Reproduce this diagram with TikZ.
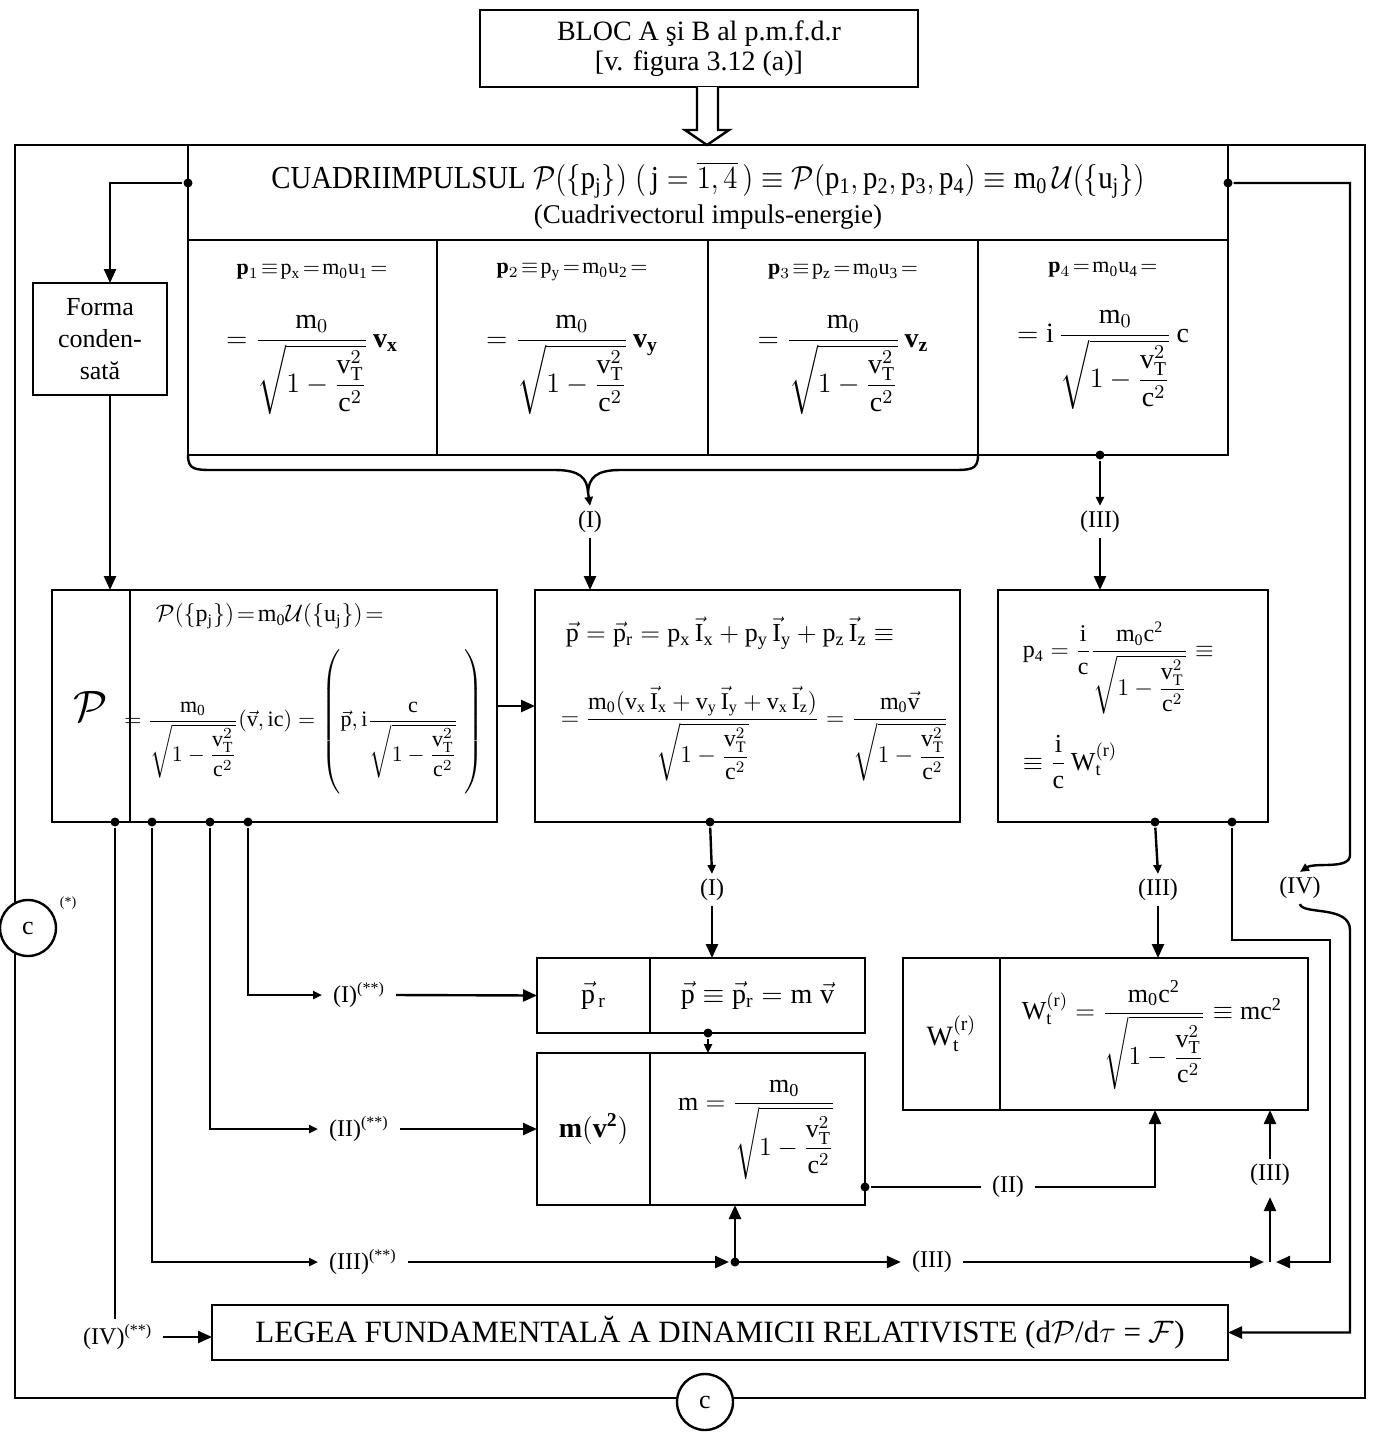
\RequirePackage{fix-cm}
\documentclass[tikz,border=0pt]{standalone}
\usepackage{amsmath}
\usepackage{fontspec}
\setmainfont{Liberation Serif}
\usetikzlibrary{arrows.meta,calc}
\newcommand\rr[1]{\mathrm{#1}}
\newcommand\rtq{\sqrt{1-\dfrac{\rr{v}_{\rr{T}}^{2}}{\rr{c}^{2}}}}
\newcommand\vv[1]{\vec{\rr{#1}}}
\newcommand\fs[1]{\fontsize{#1}{#1}\selectfont}
\newcommand\mkbox[6][]{\node[box,#1,minimum width={(#5-#3)*0.5pt},minimum height={(#6-#4)*0.5pt}] (#2) at ({(#3+#5)/2},{(#4+#6)/2}) {};}
\begin{document}
\begin{tikzpicture}[x=0.5pt,y=-0.5pt,line width=1.2pt,
  box/.style={draw,inner sep=0pt,outer sep=0pt},
  arr/.style={-{Triangle[length=7pt,width=6pt]}},
  sarr/.style={-{Triangle[length=4.5pt,width=4pt]}},
  dot/.style={circle,fill,inner sep=0pt,minimum size=4.5pt},
  lab/.style={font=\fs{12},inner xsep=5pt,inner ysep=2pt},
  cc/.style={circle,draw,fill=white,minimum size=28pt,inner sep=0pt,font=\fs{13}}]
\useasboundingbox (0,0) rectangle (1376,1432);
% outer loop
\draw (15,145) rectangle (1365,1398);
% boxes
\mkbox{top}{480}{10}{918}{87}
\mkbox{hdr}{188}{145}{1228}{240}
\mkbox{c1}{188}{240}{437}{455}
\mkbox{c2}{437}{240}{708}{455}
\mkbox{c3}{708}{240}{978}{455}
\mkbox{c4}{978}{240}{1228}{455}
\mkbox{forma}{33}{283}{167}{395}
\mkbox{Pl}{52}{590}{130}{822}
\mkbox{Pr}{130}{590}{497}{822}
\mkbox{pv}{535}{590}{960}{822}
\mkbox{pf}{998}{590}{1268}{822}
\mkbox{prl}{537}{958}{650}{1033}
\mkbox{prr}{650}{958}{865}{1033}
\mkbox{ml}{537}{1053}{650}{1205}
\mkbox{mr}{650}{1053}{865}{1205}
\mkbox{wl}{903}{958}{1000}{1110}
\mkbox{wr}{1000}{958}{1308}{1110}
\mkbox{legea}{212}{1305}{1228}{1360}
% circles
\node[cc] (cl) at (28,928) {c};
\node[font=\fs{7}] (st) at (68,903) {(*)};
\node[cc] (cb) at (705,1402) {c};
% texts
\node[align=center,font=\fontsize{14}{15}\selectfont] (toptxt) at (top) {BLOC A şi B al p.m.f.d.r\\{[v. figura 3.12 (a)]}};
\node[font=\fontsize{16}{18}\selectfont] (h1) at (708,180) {\scalebox{0.9}[1]{CUADRIIMPULSUL $\mathcal{P}(\{\rr{p_j}\})\;(\,\rr{j}=\overline{1,4}\,)\equiv\mathcal{P}(\rr{p_1,p_2,p_3,p_4})\equiv\rr{m_0}\,\mathcal{U}(\{\rr{u_j}\})$}};
\node[font=\fontsize{13.5}{15}\selectfont] (h2) at (708,217) {(Cuadrivectorul impuls-energie)};
\node[font=\fs{11}] (c1a) at (312,272) {$\mathbf{p}_{1}\!\equiv\!\rr{p_x}\!=\!\rr{m_0u_1}\!=$};
\node[font=\fs{14}] (c1b) at (312,365) {$=\dfrac{\rr{m}_0}{\rtq}\,\mathbf{v_x}$};
\node[font=\fs{11}] (c2a) at (572,272) {$\mathbf{p}_{2}\!\equiv\!\rr{p_y}\!=\!\rr{m_0u_2}\!=$};
\node[font=\fs{14}] (c2b) at (572,365) {$=\dfrac{\rr{m}_0}{\rtq}\,\mathbf{v_y}$};
\node[font=\fs{11}] (c3a) at (843,272) {$\mathbf{p}_{3}\!\equiv\!\rr{p_z}\!=\!\rr{m_0u_3}\!=$};
\node[font=\fs{14}] (c3b) at (843,365) {$=\dfrac{\rr{m}_0}{\rtq}\,\mathbf{v_z}$};
\node[font=\fs{11}] (c4a) at (1103,270) {$\mathbf{p}_{4}\!=\!\rr{m_0u_4}\!=$};
\node[font=\fs{14}] (c4b) at (1103,360) {$=\rr{i}\,\dfrac{\rr{m}_0}{\rtq}\,\rr{c}$};
\node[font=\fontsize{13}{16}\selectfont,align=center] (ft) at (forma) {Forma\\conden-\\sată};
\node[font=\fs{22}] (Psym) at (Pl) {$\mathcal{P}$};
\node[font=\fs{12},anchor=west] (Pa) at (148,616) {$\mathcal{P}(\{\rr{p_j}\})\!=\!\rr{m_0}\mathcal{U}(\{\rr{u_j}\})\!=$};
\node[font=\fs{11}] (Pb) at (304,722) {$=\dfrac{\rr{m_0}}{\rtq}(\vv{v},\rr{ic})=\left(\rule[-34pt]{0pt}{68pt}\vv{p},\rr{i}\dfrac{\rr{c}}{\rtq}\;\right)$};
\node[font=\fs{13},anchor=west] (pva) at (558,633) {$\vv{p}=\vv{p}_{\rr{r}}=\rr{p_x}\,\vec{\rr{I}}_{\rr{x}}+\rr{p_y}\,\vec{\rr{I}}_{\rr{y}}+\rr{p_z}\,\vec{\rr{I}}_{\rr{z}}\equiv$};
\node[font=\fs{12},anchor=west] (pvb) at (553,734) {$=\dfrac{\rr{m_0}(\rr{v_x}\,\vec{\rr{I}}_{\rr{x}}+\rr{v_y}\,\vec{\rr{I}}_{\rr{y}}+\rr{v_x}\,\vec{\rr{I}}_{\rr{z}})}{\rtq}=\dfrac{\rr{m_0}\vv{v}}{\rtq}$};
\node[font=\fs{12},anchor=west] (pfa) at (1015,668) {$\rr{p_4}=\dfrac{\rr{i}}{\rr{c}}\dfrac{\rr{m_0c^2}}{\rtq}\equiv$};
\node[font=\fs{13},anchor=west] (pfb) at (1015,762) {$\equiv\dfrac{\rr{i}}{\rr{c}}\,\rr{W_t^{(r)}}$};
\node[font=\fs{14}] (prlt) at (prl) {$\vv{p}_{\,\rr{r}}$};
\node[font=\fs{14}] (prrt) at (prr) {$\vv{p}\equiv\vv{p}_{\rr{r}}=\rr{m}\;\vv{v}$};
\node[font=\fs{14}] (mlt) at (ml) {$\mathbf{m(v^2)}$};
\node[font=\fs{13}] (mrt) at (757,1130) {$\rr{m}=\dfrac{\rr{m_0}}{\rtq}$};
\node[font=\fs{14}] (wlt) at (wl) {$\rr{W_t^{(r)}}$};
\node[font=\fs{13}] (wrt) at (1152,1035) {$\rr{W_t^{(r)}}=\dfrac{\rr{m_0c^2}}{\rtq}\equiv\rr{mc^2}$};
\node[font=\fontsize{15.5}{17}\selectfont] (lt) at (legea) {LEGEA FUNDAMENTALĂ A DINAMICII RELATIVISTE (d$\mathcal{P}$/d$\tau$ = $\mathcal{F}$)};
% hollow arrow
\draw[fill=white] ($(top.south)+(-2,0)$) -- ++(0,43) -- ++(-12,0) -- ($(hdr.north)+(-1,0)$) -- ($(top.south)+(30,43)$) -- ++(-11,0) -- ($(top.south)+(19,0)$);
% header outputs
\node[dot] (d1) at (188,183) {};
\node[dot] (d2) at (1228,183) {};
\coordinate (fx) at (110,0);
\draw[arr] (d1) -| (fx |- forma.north);
\draw[arr] (fx |- forma.south) -- (fx |- Pl.north);
% (IV) right
\coordinate (r1) at (1350,183);
\coordinate (r2) at (1350,855);
\coordinate (r3) at (1350,930);
\node[lab] (L13) at (1300,888) {(IV)};
\draw[sarr] (d2) -- (r1) -- (r2) .. controls (1350,870) and (1315,862) .. (L13.north);
\draw[arr] (L13.south) .. controls (1302,915) and (1350,905) .. (r3) |- (legea.east);
% brace
\coordinate (bp) at (588,492);
\draw (c1.south west) .. controls (188,470) and (195,470) .. (215,470) -- (555,470) .. controls (580,470) and (587,478) .. (bp);
\draw (c3.south east) .. controls (978,470) and (971,470) .. (951,470) -- (620,470) .. controls (596,470) and (589,478) .. (bp);
\node[lab] (L1) at (590,522) {(I)};
\draw[sarr] (bp) -- (L1.north);
\draw[arr] (L1.south) -- (L1.south |- pv.north);
\node[dot] (d3) at (1100,455) {};
\node[lab] (L2) at (1100,522) {(III)};
\draw[sarr] (d3) -- (L2.north);
\draw[arr] (L2.south) -- (L2.south |- pf.north);
% P -> p
\draw[arr] (Pr.east) -- (pv.west);
% p -> pr
\node[dot] (d4) at (710,822) {};
\node[lab] (L4) at (712,890) {(I)};
\draw[sarr] (d4) -- (L4.north);
\draw[arr] (L4.south) -- (L4.south |- prr.north);
% p4 -> W
\node[dot] (d5) at (1155,822) {};
\node[lab] (L5) at (1158,890) {(III)};
\draw[sarr] (d5) -- (L5.north);
\draw[arr] (L5.south) -- (L5.south |- wr.north);
% pr -> m
\node[dot] (d6) at (708,1033) {};
\draw[sarr] (d6) -- (d6 |- mr.north);
% m -> W (II)
\node[dot] (d7) at (865,1187) {};
\node[lab] (L6) at (1008,1187) {(II)};
\coordinate (wx) at (1155,0);
\draw (d7) -- (L6.west);
\draw[arr] (L6.east) -| (wx |- wr.south);
% right junction
\coordinate (j2) at (1270,1262);
\coordinate (s2) at (1330,940);
\node[dot] (d8) at (1232,822) {};
\draw[arr,shorten >=3pt] (d8) |- (s2) |- (j2);
\node[lab] (L7) at (1270,1175) {(III)};
\draw[arr,shorten >=3pt] (j2) -- (j2 |- L7.south);
\draw[arr] (j2 |- L7.north) -- (j2 |- wr.south);
% left outputs of P
\node[dot] (q1) at (115,822) {};
\node[dot] (q2) at (152,822) {};
\node[dot] (q3) at (210,822) {};
\node[dot] (q4) at (248,822) {};
\node[lab,anchor=west] (L9) at (322,995) {(I)\textsuperscript{(**)}};
\draw[sarr] (q4) |- (L9.west);
\draw[arr] (L9.east) -- (prl.west);
\node[lab,anchor=west] (L10) at (318,1129) {(II)\textsuperscript{(**)}};
\draw[sarr] (q3) |- (L10.west);
\draw[arr] (L10.east) -- (ml.west);
\coordinate (j1) at (735,1262);
\node[lab,anchor=west] (L11) at (318,1262) {(III)\textsuperscript{(**)}};
\draw[sarr] (q2) |- (L11.west);
\draw[arr,shorten >=3pt] (L11.east) -- (j1);
\node[dot] (d9) at (j1) {};
\draw[arr] (j1) -- (j1 |- mr.south);
\node[lab] (L8) at (932,1262) {(III)};
\draw[arr] (j1) -- (L8.west);
\draw[arr,shorten >=3pt] (L8.east) -- (j2);
\node[lab,anchor=west] (L12) at (72,1337) {(IV)\textsuperscript{(**)}};
\draw (q1) -- (q1 |- L12.north);
\draw[arr] (L12.east) -- (L12.east -| legea.west);
\end{tikzpicture}
\end{document}
